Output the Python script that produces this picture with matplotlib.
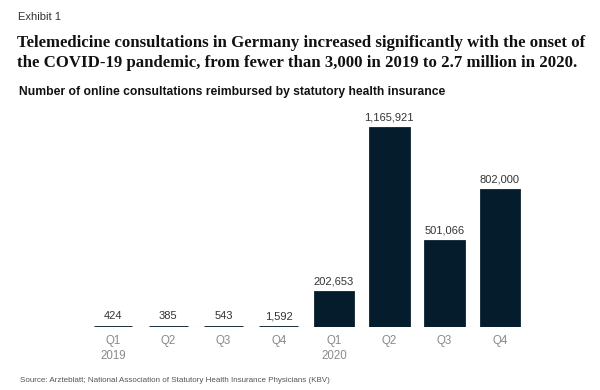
import matplotlib
matplotlib.use("Agg")
import matplotlib.pyplot as plt

quarters = ["Q1\n2019", "Q2", "Q3", "Q4", "Q1\n2020", "Q2", "Q3", "Q4"]
values = [424, 385, 543, 1592, 202653, 1165921, 501066, 802000]
value_labels = ["424", "385", "543", "1,592", "202,653", "1,165,921", "501,066", "802,000"]

title = ("Telemedicine consultations in Germany increased significantly with the onset of\n"
         "the COVID-19 pandemic, from fewer than 3,000 in 2019 to 2.7 million in 2020.")
subtitle = "Number of online consultations reimbursed by statutory health insurance"
source = "Source: Arzteblatt; National Association of Statutory Health Insurance Physicians (KBV)"

navy = "#051c2c"

fig = plt.figure(figsize=(6, 3.9), dpi=100)
ax = fig.add_axes([93/600, 63/390, 434/600, 217/390])
x = list(range(len(values)))
ax.axhline(0, color="#d0d0d0", linewidth=0.8, zorder=2)
ax.bar(x, values, width=0.70, color=navy, edgecolor=navy, linewidth=2.0, zorder=3)
ax.set_xlim(-0.36, 7.49)
ax.set_ylim(0, 1.27e6)
for s in ax.spines.values():
    s.set_visible(False)
ax.set_yticks([])
ax.set_xticks(x)
ax.set_xticklabels(quarters, fontsize=8.3, color="#8a8a8a", family="Liberation Sans", linespacing=1.35)
ax.tick_params(axis="x", length=0, pad=6)
for xi, v, lab in zip(x, values, value_labels):
    ax.annotate(lab, (xi, v), xytext=(0, 4), textcoords="offset points",
                ha="center", va="bottom", fontsize=8.0, color="#333333", family="Liberation Sans")

fig.text(18/600, 1 - 17/390, "Exhibit 1", fontsize=8.0, color="#333333", family="Liberation Sans", va="center")
fig.text(17/600, 1 - 53/390, title, fontsize=12.1, color="#111111", family="Liberation Serif",
         weight="bold", va="center", linespacing=1.38)
fig.text(19/600, 1 - 92/390, subtitle, fontsize=8.7, color="#111111", family="Liberation Sans",
         weight="bold", va="center")
fig.text(20/600, 1 - 380/390, source, fontsize=5.8, color="#555555", family="Liberation Sans", va="center")

fig.savefig("out.png", dpi=100, facecolor="white")
